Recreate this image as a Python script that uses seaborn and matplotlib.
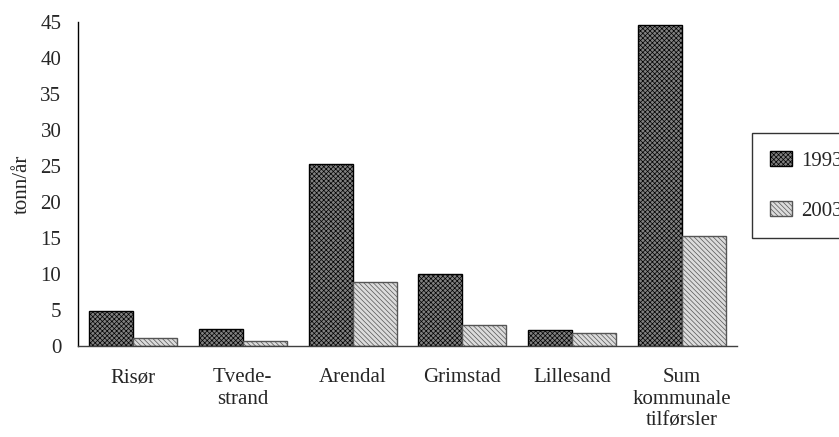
import pandas as pd
import matplotlib.pyplot as plt
import seaborn as sns

# Data
kommuner = ['Risør', 'Tvede-\nstrand', 'Arendal', 'Grimstad', 'Lillesand', 'Sum\nkommunale\ntilførsler']
verdier_1993 = [4.8, 2.3, 25.3, 10.0, 2.2, 44.6]
verdier_2003 = [1.1, 0.7, 8.9, 2.9, 1.8, 15.3]
aar = ['1993', '2003']

df = pd.DataFrame({
    'kommune': kommuner * 2,
    'tonn': verdier_1993 + verdier_2003,
    'aar': [aar[0]] * len(kommuner) + [aar[1]] * len(kommuner),
})

sns.set_style('white')
plt.rcParams['font.family'] = ['Liberation Serif', 'DejaVu Serif']
plt.rcParams['hatch.linewidth'] = 0.5

fig = plt.figure(figsize=(8.39, 4.37), dpi=100)
ax = fig.add_axes([78 / 839, 1 - 346 / 437, (737 - 78) / 839, (346 - 22) / 437])

sns.barplot(data=df, x='kommune', y='tonn', hue='aar', order=kommuner,
            hue_order=aar, width=0.8, ax=ax, legend=False)

# hatch style like the old spreadsheet chart
stiler = {
    '1993': dict(facecolor='#808080', hatch='xxxxxxx', edgecolor='black'),
    '2003': dict(facecolor='#dcdcdc', hatch='\\\\\\\\\\\\\\', edgecolor='#555555'),
}
for cont, a in zip(ax.containers, aar):
    for bar in cont:
        bar.set_facecolor(stiler[a]['facecolor'])
        bar.set_hatch(stiler[a]['hatch'])
        bar.set_edgecolor(stiler[a]['edgecolor'])
        bar.set_linewidth(1.0)

ax.set_xlim(-0.5, 5.5)
ax.set_ylim(0, 45)
ax.set_yticks(range(0, 46, 5))
ax.set_ylabel('tonn/år', fontsize=15)
ax.yaxis.set_label_coords(-0.07, 0.5)
ax.set_xlabel('')
ax.set_xticks(range(len(kommuner)))
ax.set_xticklabels(kommuner, fontsize=15, linespacing=1.2)
ax.set_xticks([i - 0.5 for i in range(len(kommuner) + 1)], minor=True)
ax.tick_params(axis='x', which='major', length=0, pad=16)
ax.tick_params(axis='x', which='minor', direction='inout', length=8, width=1, color='black')
ax.tick_params(axis='y', direction='inout', length=8, width=1, color='black', labelsize=15, pad=8)

for s in ['top', 'right']:
    ax.spines[s].set_visible(False)
ax.spines['left'].set_color('black')
ax.spines['bottom'].set_color('#404040')
ax.spines['left'].set_linewidth(1)
ax.spines['bottom'].set_linewidth(1)

# legend
handles = [plt.Rectangle((0, 0), 1, 1, **stiler[a], linewidth=1.0) for a in aar]
leg = fig.legend(handles, aar, loc='upper left', bbox_to_anchor=(752 / 839, 1 - 133 / 437),
                 bbox_transform=fig.transFigure, borderaxespad=0, fontsize=15, frameon=True,
                 fancybox=False, edgecolor='black', handlelength=1.05, handleheight=0.75,
                 handletextpad=0.45, labelspacing=1.45, borderpad=0.85)
leg.get_frame().set_linewidth(1)

fig.savefig('out.png', dpi=100)
